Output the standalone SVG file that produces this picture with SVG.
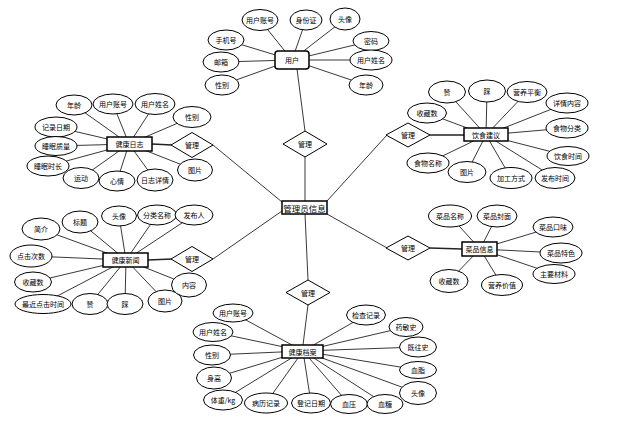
<svg xmlns="http://www.w3.org/2000/svg" width="623" height="422" viewBox="0 0 623 422">
<style>
.c line{stroke:#222;stroke-width:0.9}
.c line.r{stroke-width:1.4}
ellipse{fill:#fff;stroke:#000;stroke-width:1}
rect{fill:#fff;stroke:#000;stroke-width:1.5}
polygon{fill:#fff;stroke:#000;stroke-width:1}
text{font-family:"Noto Sans CJK SC","Noto Sans",sans-serif;font-size:7px;text-anchor:middle;dominant-baseline:central;fill:#000}
text.m{font-size:8.5px}
</style>
<rect x="0" y="0" width="623" height="422" style="fill:#fff;stroke:none"/>
<g id="connectors" class="c">
<!-- user -->
<line x1="292" y1="60" x2="260" y2="20"/><line x1="292" y1="60" x2="306" y2="20"/><line x1="292" y1="60" x2="345" y2="19"/>
<line x1="292" y1="60" x2="226" y2="40"/><line x1="292" y1="60" x2="371" y2="41"/><line x1="292" y1="60" x2="221" y2="62"/>
<line x1="292" y1="60" x2="371" y2="60"/><line x1="292" y1="60" x2="222" y2="85"/><line x1="292" y1="60" x2="366" y2="85"/>
<line x1="297" y1="69" x2="305" y2="131"/><line x1="305" y1="156" x2="305" y2="201"/>
<!-- log -->
<line x1="129" y1="144" x2="74" y2="105"/><line x1="129" y1="144" x2="113" y2="104"/><line x1="129" y1="144" x2="155" y2="104"/>
<line x1="129" y1="144" x2="192" y2="117"/><line x1="129" y1="144" x2="56" y2="127"/><line x1="129" y1="144" x2="56" y2="146"/>
<line x1="129" y1="144" x2="48" y2="166"/><line x1="129" y1="144" x2="81" y2="178"/><line x1="129" y1="144" x2="117" y2="181"/>
<line x1="129" y1="144" x2="155" y2="180"/><line x1="129" y1="144" x2="195" y2="170"/>
<line class="r" x1="152" y1="144" x2="172" y2="145"/><line x1="213" y1="145" x2="282" y2="202"/>
<!-- diet -->
<line x1="486" y1="135" x2="427" y2="113"/><line x1="486" y1="135" x2="447" y2="92"/><line x1="486" y1="135" x2="487" y2="91"/>
<line x1="486" y1="135" x2="527" y2="92"/><line x1="486" y1="135" x2="567" y2="103"/><line x1="486" y1="135" x2="567" y2="128"/>
<line x1="486" y1="135" x2="568" y2="156"/><line x1="486" y1="135" x2="555" y2="178"/><line x1="486" y1="135" x2="511" y2="178"/>
<line x1="486" y1="135" x2="467" y2="172"/><line x1="486" y1="135" x2="428" y2="163"/>
<line class="r" x1="430" y1="135" x2="464" y2="135"/><line x1="387" y1="135" x2="327" y2="201"/>
<!-- dish -->
<line x1="480" y1="249" x2="450" y2="216"/><line x1="480" y1="249" x2="497" y2="216"/><line x1="480" y1="249" x2="553" y2="227"/>
<line x1="480" y1="249" x2="561" y2="253"/><line x1="480" y1="249" x2="554" y2="274"/><line x1="480" y1="249" x2="449" y2="281"/>
<line x1="480" y1="249" x2="502" y2="285"/>
<line class="r" x1="430" y1="248" x2="462" y2="249"/><line x1="387" y1="248" x2="327" y2="214"/>
<!-- news -->
<line x1="126" y1="260" x2="41" y2="229"/><line x1="126" y1="260" x2="80" y2="222"/><line x1="126" y1="260" x2="119" y2="216"/>
<line x1="126" y1="260" x2="157" y2="215"/><line x1="126" y1="260" x2="194" y2="215"/><line x1="126" y1="260" x2="31" y2="256"/>
<line x1="126" y1="260" x2="33" y2="282"/><line x1="126" y1="260" x2="42" y2="304"/><line x1="126" y1="260" x2="90" y2="304"/>
<line x1="126" y1="260" x2="125" y2="304"/><line x1="126" y1="260" x2="165" y2="301"/><line x1="126" y1="260" x2="189" y2="285"/>
<line class="r" x1="148" y1="260" x2="172" y2="259"/><line x1="213" y1="259" x2="282" y2="211"/>
<!-- record -->
<line x1="303" y1="351" x2="233" y2="313"/><line x1="303" y1="351" x2="213" y2="332"/><line x1="303" y1="351" x2="212" y2="355"/>
<line x1="303" y1="351" x2="214" y2="378"/><line x1="303" y1="351" x2="223" y2="400"/><line x1="303" y1="351" x2="266" y2="403"/>
<line x1="303" y1="351" x2="311" y2="403"/><line x1="303" y1="351" x2="349" y2="404"/><line x1="303" y1="351" x2="385" y2="404"/>
<line x1="303" y1="351" x2="418" y2="393"/><line x1="303" y1="351" x2="418" y2="370"/><line x1="303" y1="351" x2="418" y2="347"/>
<line x1="303" y1="351" x2="406" y2="327"/><line x1="303" y1="351" x2="366" y2="315"/>
<line x1="305" y1="214" x2="308" y2="280"/><line x1="308" y1="305" x2="303" y2="345"/>
</g>

<g id="admin"><rect x="282" y="201" width="45" height="13"/><text class="m" x="304.5" y="207.5">管理员信息</text></g>

<g id="rel-top"><polygon points="305,131 327,144 305,157 283,144"/><text x="305" y="144">管理</text></g>
<g id="rel-bottom"><polygon points="308,280 330,292.5 308,305 286,292.5"/><text x="308" y="292.5">管理</text></g>
<g id="rel-log"><polygon points="192,132.5 213,145 192,157.5 171,145"/><text x="192" y="145">管理</text></g>
<g id="rel-diet"><polygon points="408,123 430,135 408,147 386,135"/><text x="408" y="135">管理</text></g>
<g id="rel-dish"><polygon points="408,236 430,248 408,260 386,248"/><text x="408" y="248">管理</text></g>
<g id="rel-news"><polygon points="192,246.5 213,259 192,271.5 171,259"/><text x="192" y="259">管理</text></g>

<g id="user"><rect x="275" y="51" width="34" height="18" rx="3"/><text x="292" y="60">用户</text></g>
<g id="u1"><ellipse cx="260" cy="20" rx="18" ry="10.5"/><text x="260" y="20">用户账号</text></g>
<g id="u2"><ellipse cx="306" cy="20" rx="16" ry="10"/><text x="306" y="20">身份证</text></g>
<g id="u3"><ellipse cx="345" cy="19" rx="15" ry="11"/><text x="345" y="19">头像</text></g>
<g id="u4"><ellipse cx="226" cy="40" rx="18" ry="10"/><text x="226" y="40">手机号</text></g>
<g id="u5"><ellipse cx="371" cy="41" rx="18" ry="9.5"/><text x="371" y="41">密码</text></g>
<g id="u6"><ellipse cx="221" cy="62" rx="18" ry="10"/><text x="221" y="62">邮箱</text></g>
<g id="u7"><ellipse cx="371" cy="60" rx="21" ry="10"/><text x="371" y="60">用户姓名</text></g>
<g id="u8"><ellipse cx="222" cy="85" rx="17" ry="10"/><text x="222" y="85">性别</text></g>
<g id="u9"><ellipse cx="366" cy="85" rx="17" ry="10"/><text x="366" y="85">年龄</text></g>

<g id="log"><rect x="107" y="137" width="45" height="14"/><text x="129.5" y="144">健康日志</text></g>
<g id="l1"><ellipse cx="74" cy="105" rx="18" ry="10"/><text x="74" y="105">年龄</text></g>
<g id="l2"><ellipse cx="113" cy="104" rx="20" ry="10"/><text x="113" y="104">用户账号</text></g>
<g id="l3"><ellipse cx="155" cy="104" rx="20" ry="10.5"/><text x="155" y="104">用户姓名</text></g>
<g id="l4"><ellipse cx="192" cy="117" rx="19" ry="10.5"/><text x="192" y="117">性别</text></g>
<g id="l5"><ellipse cx="56" cy="127" rx="21" ry="10"/><text x="56" y="127">记录日期</text></g>
<g id="l6"><ellipse cx="56" cy="146" rx="21" ry="9.5"/><text x="56" y="146">睡眠质量</text></g>
<g id="l7"><ellipse cx="48" cy="166" rx="21" ry="10"/><text x="48" y="166">睡眠时长</text></g>
<g id="l8"><ellipse cx="81" cy="178" rx="18" ry="10.5"/><text x="81" y="178">运动</text></g>
<g id="l9"><ellipse cx="117" cy="181" rx="18" ry="10"/><text x="117" y="181">心情</text></g>
<g id="l10"><ellipse cx="155" cy="180" rx="18" ry="11"/><text x="155" y="180">日志详情</text></g>
<g id="l11"><ellipse cx="195" cy="170" rx="17.5" ry="11"/><text x="195" y="170">图片</text></g>

<g id="diet"><rect x="464" y="128" width="44" height="13"/><text x="486" y="134.5">饮食建议</text></g>
<g id="d1"><ellipse cx="427" cy="113" rx="19.5" ry="10"/><text x="427" y="113">收藏数</text></g>
<g id="d2"><ellipse cx="447" cy="92" rx="18.5" ry="11"/><text x="447" y="92">赞</text></g>
<g id="d3"><ellipse cx="487" cy="91" rx="18.5" ry="11"/><text x="487" y="91">踩</text></g>
<g id="d4"><ellipse cx="527" cy="92" rx="20" ry="10.5"/><text x="527" y="92">营养平衡</text></g>
<g id="d5"><ellipse cx="567" cy="103" rx="21" ry="10"/><text x="567" y="103">详情内容</text></g>
<g id="d6"><ellipse cx="567" cy="128" rx="21" ry="10"/><text x="567" y="128">食物分类</text></g>
<g id="d7"><ellipse cx="568" cy="156" rx="21" ry="9.5"/><text x="568" y="156">饮食时间</text></g>
<g id="d8"><ellipse cx="555" cy="178" rx="20" ry="10.5"/><text x="555" y="178">发布时间</text></g>
<g id="d9"><ellipse cx="511" cy="178" rx="21" ry="10.5"/><text x="511" y="178">加工方式</text></g>
<g id="d10"><ellipse cx="467" cy="172" rx="19" ry="10.5"/><text x="467" y="172">图片</text></g>
<g id="d11"><ellipse cx="428" cy="163" rx="21" ry="10"/><text x="428" y="163">食物名称</text></g>

<g id="dish"><rect x="462" y="242" width="35" height="14"/><text x="479.5" y="249">菜品信息</text></g>
<g id="c1"><ellipse cx="450" cy="216" rx="21.5" ry="11"/><text x="450" y="216">菜品名称</text></g>
<g id="c2"><ellipse cx="497" cy="216" rx="20" ry="11"/><text x="497" y="216">菜品封面</text></g>
<g id="c3"><ellipse cx="553" cy="227" rx="20" ry="10"/><text x="553" y="227">菜品口味</text></g>
<g id="c4"><ellipse cx="561" cy="253" rx="21" ry="10"/><text x="561" y="253">菜品特色</text></g>
<g id="c5"><ellipse cx="554" cy="274" rx="21" ry="9.5"/><text x="554" y="274">主要材料</text></g>
<g id="c6"><ellipse cx="449" cy="281" rx="19" ry="11.5"/><text x="449" y="281">收藏数</text></g>
<g id="c7"><ellipse cx="502" cy="285" rx="20.5" ry="10.5"/><text x="502" y="285">营养价值</text></g>

<g id="news"><rect x="103" y="253" width="45" height="14"/><text x="125.5" y="260">健康新闻</text></g>
<g id="n1"><ellipse cx="41" cy="229" rx="19" ry="11"/><text x="41" y="229">简介</text></g>
<g id="n2"><ellipse cx="80" cy="222" rx="18" ry="11"/><text x="80" y="222">标题</text></g>
<g id="n3"><ellipse cx="119" cy="216" rx="17.5" ry="10"/><text x="119" y="216">头像</text></g>
<g id="n4"><ellipse cx="157" cy="215" rx="19.5" ry="10"/><text x="157" y="215">分类名称</text></g>
<g id="n5"><ellipse cx="194" cy="215" rx="19" ry="10"/><text x="194" y="215">发布人</text></g>
<g id="n6"><ellipse cx="31" cy="256" rx="21" ry="11"/><text x="31" y="256">点击次数</text></g>
<g id="n7"><ellipse cx="33" cy="282" rx="18.5" ry="10"/><text x="33" y="282">收藏数</text></g>
<g id="n8"><ellipse cx="43" cy="304" rx="28" ry="9.5"/><text x="43" y="304">最近点击时间</text></g>
<g id="n9"><ellipse cx="90" cy="304" rx="18" ry="10.5"/><text x="90" y="304">赞</text></g>
<g id="n10"><ellipse cx="125" cy="304" rx="18" ry="10.5"/><text x="125" y="304">踩</text></g>
<g id="n11"><ellipse cx="165" cy="301" rx="17" ry="11"/><text x="165" y="301">图片</text></g>
<g id="n12"><ellipse cx="189" cy="285" rx="17.5" ry="12"/><text x="189" y="285">内容</text></g>

<g id="record"><rect x="282" y="345" width="41" height="13"/><text x="302.5" y="351.5">健康档案</text></g>
<g id="r1"><ellipse cx="233" cy="313" rx="20" ry="9"/><text x="233" y="313">用户账号</text></g>
<g id="r2"><ellipse cx="213" cy="332" rx="20" ry="9.5"/><text x="213" y="332">用户姓名</text></g>
<g id="r3"><ellipse cx="212" cy="355" rx="18.5" ry="10"/><text x="212" y="355">性别</text></g>
<g id="r4"><ellipse cx="214" cy="378" rx="17.5" ry="11"/><text x="214" y="378">身高</text></g>
<g id="r5"><ellipse cx="223" cy="400" rx="19.5" ry="10"/><text x="223" y="400">体重/kg</text></g>
<g id="r6"><ellipse cx="266" cy="403" rx="21.5" ry="10"/><text x="266" y="403">病历记录</text></g>
<g id="r7"><ellipse cx="311" cy="403" rx="19.5" ry="10"/><text x="311" y="403">登记日期</text></g>
<g id="r8"><ellipse cx="349" cy="404" rx="18.5" ry="9.5"/><text x="349" y="404">血压</text></g>
<g id="r9"><ellipse cx="385" cy="404" rx="18" ry="9.5"/><text x="385" y="404">血糖</text></g>
<g id="r10"><ellipse cx="418" cy="393" rx="18.5" ry="11.5"/><text x="418" y="393">头像</text></g>
<g id="r11"><ellipse cx="418" cy="370" rx="18.5" ry="8.5"/><text x="418" y="370">血脂</text></g>
<g id="r12"><ellipse cx="418" cy="347" rx="18.5" ry="10"/><text x="418" y="347">既往史</text></g>
<g id="r13"><ellipse cx="406" cy="327" rx="17" ry="9.5"/><text x="406" y="327">药敏史</text></g>
<g id="r14"><ellipse cx="366" cy="315" rx="19.5" ry="10"/><text x="366" y="315">检查记录</text></g>
</svg>
